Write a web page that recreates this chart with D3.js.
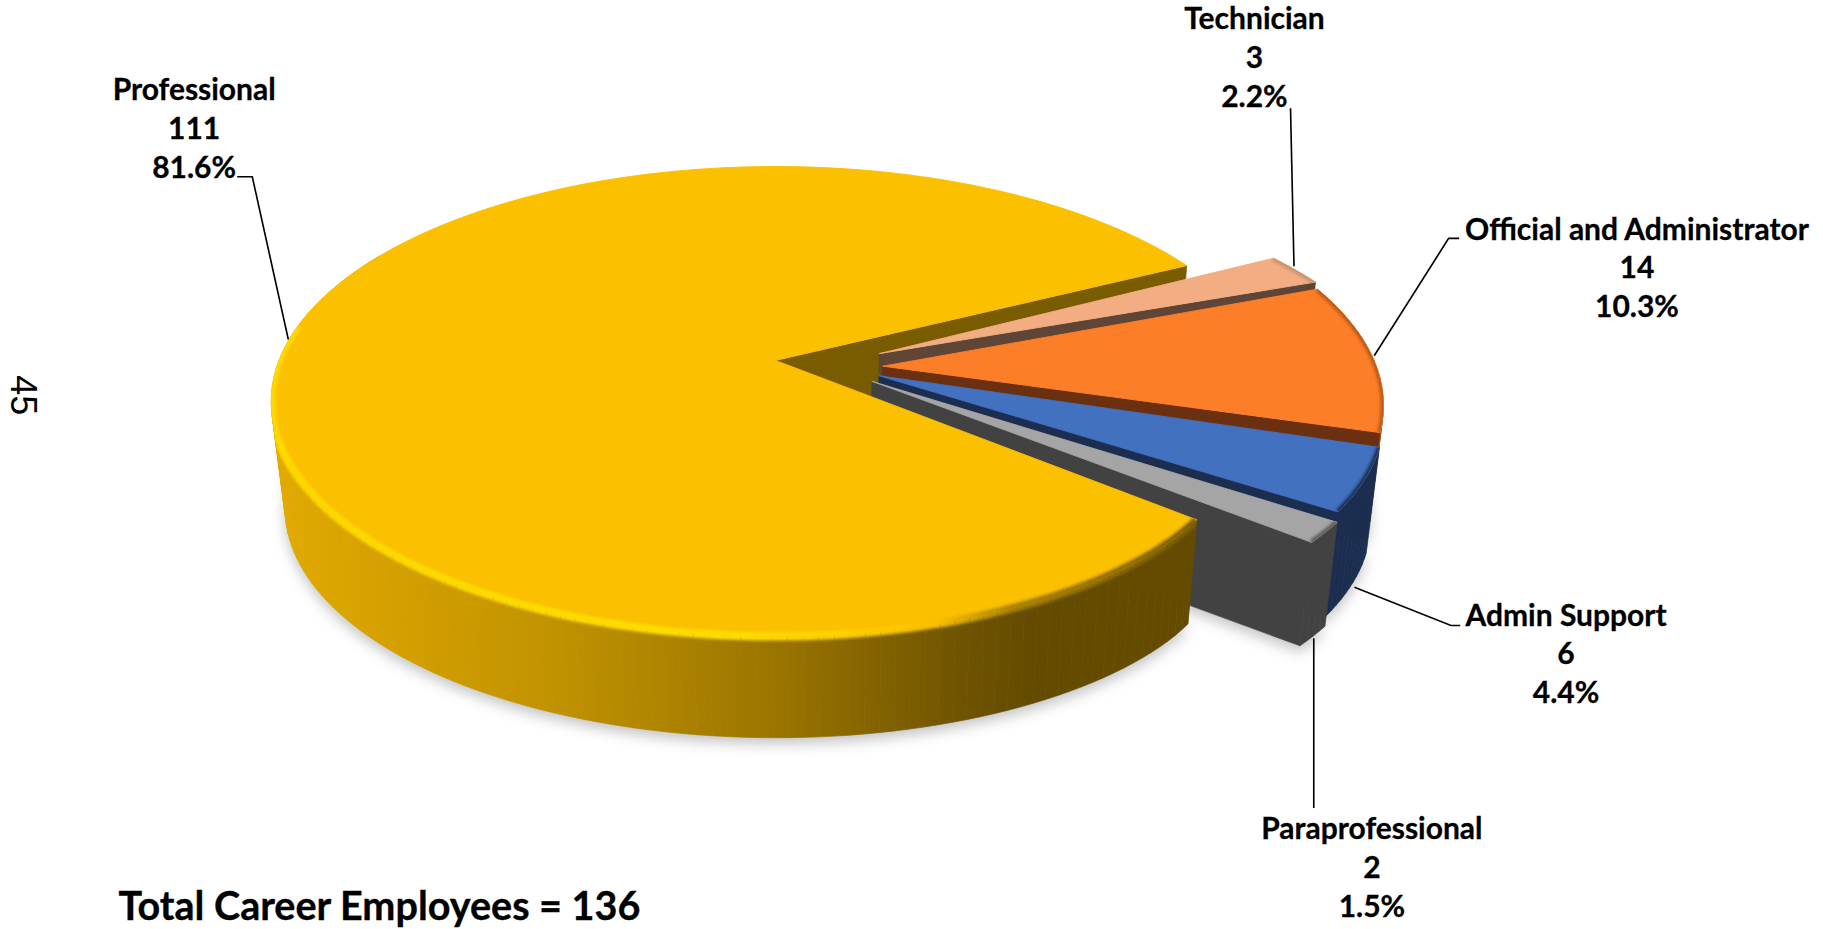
<!DOCTYPE html>
<html><head><meta charset="utf-8">
<script src="https://cdn.jsdelivr.net/npm/d3@7"></script>
<style>html,body{margin:0;padding:0;background:#fff;overflow:hidden}svg{display:block}
text{font-family:Lato,"Liberation Sans",sans-serif;font-weight:700;fill:#000}</style>
</head><body><div id="chart"></div>
<script>
// ---- data ----
const categories = ["Professional","Technician","Official and Administrator","Admin Support","Paraprofessional"];
const values = [111,3,14,6,2];
const totalLabel = "Total Career Employees = 136";
const pageNumber = "45";

// ---- styles / layout (drawn in the 1568x799 view space, scaled to the window) ----
const topColors  = ["#FBC000","#F2AE82","#FD7E28","#4271C0","#A5A5A5"];
const wallColors = ["#7A5C00","#5E4535","#6B3010","#1B2E50","#424242"];
const sideColors = ["url(#sideY)","#7d5a40","#a8541a","#1B2E50","#424242"];
const rimColors  = ["url(#rimY)","#b08060","#9c4c14","#1B2E50","#5a5a5a"];
const rimOpacity = [1,.6,.7,1,1];
const offsets = [[0,0],[.21,-.03],[.215,.025],[.206,.066],[.191,.09]]; // slice explosion on the pie plane
const radii = [[1,1],[.99,1.005],[1.005,.978],[.979,.967],[.979,.972]]; // radius at slice start/end
const angleShift = [0,-.8,-2,-1,-.6];                                   // perspective correction, degrees
const cam = {cx:667,cy:310,R:427,s:.459,k:.175,vx:720,vy:4100,f:.0245};
const startDeg = 129.5;

const labelLayout = [[167,77],[1079,16],[1408,197],[1347,529],[1180,713]];
const leaders = [
  [[204,152],[217,152],[248,292]],
  [[1110,93],[1113,229]],
  [[1255,205],[1246,205],[1182,306]],
  [[1256,538],[1248,538],[1165,505]],
  [[1130,695],[1130,549]]
];

const svg = d3.select("#chart").append("svg")
  .attr("width",1823).attr("height",929).attr("viewBox","0 0 1568 799");
const defs = svg.append("defs");
function makeGrad(id,stops){
  const g=defs.append("linearGradient").attr("id",id).attr("gradientUnits","userSpaceOnUse")
    .attr("x1",233).attr("x2",1030).attr("y1",0).attr("y2",0);
  stops.forEach(([o,c])=>g.append("stop").attr("offset",o).attr("stop-color",c));
}
makeGrad("sideY",[[0,"#E2AA00"],[.3,"#C29300"],[.55,"#9A7400"],[.75,"#6E5300"],[.82,"#644B00"],[1,"#644B00"]]);
makeGrad("rimY",[[0,"#FFD800"],[.5,"#FFDF00"],[.62,"#FFCF00"],[.72,"#F8BE00"],[.8,"#A88000"],[1,"#7A5C00"]]);
function makeBlur(id,sd){
  defs.append("filter").attr("id",id).attr("filterUnits","userSpaceOnUse")
    .attr("x",0).attr("y",0).attr("width",1568).attr("height",799)
    .append("feGaussianBlur").attr("stdDeviation",sd);
}
makeBlur("soft",1.6); makeBlur("shadow",6);

function project(u,v,drop){
  const w=1-cam.k*v;
  const x=cam.cx+cam.R*u/w, y=cam.cy+cam.R*cam.s*v/w;
  return drop?[x+(cam.vx-x)*cam.f,y+(cam.vy-y)*cam.f]:[x,y];
}
const pathLine=d3.line();
const deg=Math.PI/180;
const arcs=d3.pie().sort(null).startAngle(startDeg*deg).endAngle((startDeg+360)*deg)(values)
  .map(d=>({...d,startAngle:d.startAngle+angleShift[d.index]*deg,endAngle:d.endAngle+angleShift[d.index]*deg}));

// plane helpers; the big slice's near corner is softened like the bevel in the source
const radiusAt=(i,a)=>{
  const d=arcs[i];
  if(i===0) return 1-.02*Math.exp(-(a-d.startAngle)/(12*deg));
  return radii[i][0]+(radii[i][1]-radii[i][0])*(a-d.startAngle)/(d.endAngle-d.startAngle);
};
const pt=(i,a,drop,r)=>{
  const [ou,ov]=offsets[i], rr=r===undefined?radiusAt(i,a):r;
  return project(ou+rr*Math.sin(a),ov-rr*Math.cos(a),drop);
};
const arcAngles=(a0,a1)=>{
  const n=Math.max(4,Math.ceil((a1-a0)/(deg*1.5)));
  return d3.range(n+1).map(j=>a0+(a1-a0)*j/n);
};
const topPath=(i,d)=>pathLine([pt(i,0,false,0),...arcAngles(d.startAngle,d.endAngle).map(a=>pt(i,a,false))])+"Z";
const sideQuads=(i,a0,a1)=>d3.pairs(arcAngles(a0,a1)).map(([a,b])=>
  pathLine([pt(i,a,false),pt(i,b,false),pt(i,b,true),pt(i,a,true)])+"Z");

// shadow under the whole pie
const gShadow=svg.append("g").attr("filter","url(#shadow)").attr("transform","translate(0,5)");
arcs.forEach(d=>{
  const i=d.index;
  const outer=arcAngles(d.startAngle,d.endAngle).map(a=>pt(i,a,true));
  gShadow.append("path").attr("d",pathLine([pt(i,0,true,0),...outer])+"Z").attr("fill","#000").attr("fill-opacity",.24);
});

function drawWall(g,i,a){
  g.append("path").attr("d",pathLine([pt(i,0,false,0),pt(i,a,false),pt(i,a,true),pt(i,0,true,0)])+"Z")
    .attr("fill",wallColors[i]).attr("stroke",wallColors[i]).attr("stroke-width",.5);
}
function drawSide(g,i,a0,a1){
  g.append("g").selectAll("path").data(sideQuads(i,a0,a1)).join("path").attr("d",d=>d)
    .attr("fill",sideColors[i]).attr("stroke",sideColors[i]).attr("stroke-width",.6);
}
function drawTop(g,i,d){
  g.append("path").attr("d",topPath(i,d)).attr("fill",topColors[i]).attr("stroke",topColors[i]).attr("stroke-width",.8).attr("stroke-linejoin","round");
}
function drawRim(g,i,d,a0,a1,w,clipSide){
  const clip=defs.append("clipPath").attr("id","clip"+i);
  clip.append("path").attr("d",topPath(i,d));
  if(clipSide) sideQuads(i,d.startAngle,clipSide).forEach(q=>clip.append("path").attr("d",q));
  g.append("g").attr("clip-path","url(#clip"+i+")").attr("opacity",rimOpacity[i]).append("path")
    .attr("d",pathLine(arcAngles(a0,a1).map(a=>pt(i,a,false))))
    .attr("fill","none").attr("stroke",rimColors[i]).attr("stroke-width",w).attr("filter","url(#soft)");
}

const pieG=svg.append("g");
// yellow cut face first: every other slice sits in front of it
drawWall(pieG,0,arcs[0].endAngle);
// remaining slices, back to front
arcs.slice(1).forEach(d=>{
  const i=d.index, g=pieG.append("g");
  drawSide(g,i,d.startAngle,d.endAngle);
  drawWall(g,i,d.endAngle);
  drawTop(g,i,d);
  drawRim(g,i,d,d.startAngle,d.endAngle,5);
});
// the big slice is nearest the viewer; only its front arc shows a side
const y0=arcs[0], gy=pieG.append("g");
drawSide(gy,0,y0.startAngle,300*deg);
drawTop(gy,0,y0);
drawRim(gy,0,y0,y0.startAngle,279*deg,7,300*deg);

// leader lines
svg.append("g").selectAll("path").data(leaders).join("path")
  .attr("d",d=>pathLine(d)).attr("fill","none").attr("stroke","#000").attr("stroke-width",1.4);

// labels
const pct=d3.format(".1%"), total=d3.sum(values), lh=33.4;
const labelSel=svg.append("g").selectAll("text").data(categories).join("text")
  .attr("text-anchor","middle").attr("font-size",25.8).attr("stroke","#000").attr("stroke-width",.25);
labelSel.each(function(c,i){
  const [x,y]=labelLayout[i];
  d3.select(this).selectAll("tspan").data([c,values[i],pct(values[i]/total)]).join("tspan")
    .attr("x",x).attr("y",(t,j)=>y+j*lh+9).text(t=>t);
});
svg.append("text").attr("x",102).attr("y",791).attr("font-size",34).attr("stroke","#000").attr("stroke-width",.3).text(totalLabel);
svg.append("text").attr("transform","translate(9.5,340) rotate(90)").attr("text-anchor","middle")
  .attr("font-size",31).style("font-weight",400).style("font-family","'Liberation Sans',sans-serif").text(pageNumber);
</script></body></html>
